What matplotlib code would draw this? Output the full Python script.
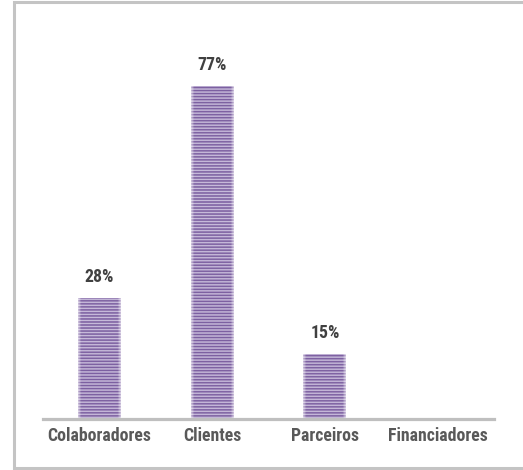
import numpy as np
import matplotlib
matplotlib.use("Agg")
import matplotlib.pyplot as plt
from matplotlib.lines import Line2D
from matplotlib import font_manager
import logging
logging.getLogger("matplotlib.font_manager").setLevel(logging.ERROR)

categories = ["Colaboradores", "Clientes", "Parceiros", "Financiadores"]
values = [28, 77, 15, 0]
labels = ["28%", "77%", "15%", ""]

names = {f.name for f in font_manager.fontManager.ttflist}
fam = [n for n in ["Liberation Sans Narrow", "Roboto Condensed", "Archivo Narrow",
                   "Liberation Sans"] if n in names][:1] + ["DejaVu Sans"]

W, H, DPI = 523, 470, 100
fig = plt.figure(figsize=(W / DPI, H / DPI), dpi=DPI)
fig.patch.set_facecolor("white")

# outer frame: left, top, bottom edges (right edge is cut off)
frame_x = [1.05, 13.5 / W, 13.5 / W, 1.05]
frame_y = [(H - 2) / H, (H - 2) / H, (H - 468) / H, (H - 468) / H]
fig.add_artist(Line2D(frame_x, frame_y, transform=fig.transFigure,
                      color="#c4c4c4", linewidth=2.2, solid_joinstyle="miter"))

ax = fig.add_axes([43 / W, 51 / H, (494 - 43) / W, (419 - 40) / H])
ax.set_xlim(-0.5, 3.5)
ax.set_ylim(0, 87.6)

x = np.arange(len(categories))
bars = ax.bar(x, values, width=0.38, color="none", edgecolor="none")

dark = np.array([0x76, 0x58, 0x9c]) / 255
light = np.array([0xdc, 0xd4, 0xea]) / 255
stripes_per_unit = 1.44
for b, v in zip(bars, values):
    if v <= 0:
        continue
    bx, by = b.get_x(), b.get_y()
    bw, bh = b.get_width(), b.get_height()
    nper = 10
    nrows = int(round(bh * stripes_per_unit * nper))
    t = np.arange(nrows) / nper
    prof = 0.5 + 0.5 * np.cos(2 * np.pi * t)
    prof = np.clip(prof * 1.3, 0, 1)
    ncols = 60
    u = np.linspace(0, 1, ncols)
    edge = np.clip(np.minimum(u, 1 - u) / 0.07, 0, 1)
    edge = 0.45 + 0.55 * edge
    img = np.zeros((nrows, ncols, 3))
    for c in range(3):
        col = light[c] + (dark[c] - light[c]) * prof[:, None]
        col = 1 - (1 - col) * edge[None, :]
        img[:, :, c] = col
    im = ax.imshow(img, extent=(bx, bx + bw, by, by + bh), origin="lower",
                   aspect="auto", interpolation="bilinear", zorder=2)
    im.set_clip_path(b)

ax.set_xlim(-0.5, 3.5)
ax.set_ylim(0, 87.6)

for xi, v, lab in zip(x, values, labels):
    if lab:
        ax.annotate(lab, (xi, v), xytext=(0, 11.5), textcoords="offset points",
                    ha="center", va="baseline", fontsize=12.8, fontweight="bold",
                    color="#404040", family=fam)

for s in ["top", "right", "left"]:
    ax.spines[s].set_visible(False)
ax.spines["bottom"].set_color("#bfbfbf")
ax.spines["bottom"].set_linewidth(2.3)
ax.set_yticks([])
ax.set_xticks(x)
ax.set_xticklabels(categories, fontsize=12.8, fontweight="bold",
                   color="#595959", family=fam, va="baseline")
ax.tick_params(axis="x", length=0, pad=15.8)
ax.set_facecolor("none")

fig.savefig("out.png", dpi=DPI)
